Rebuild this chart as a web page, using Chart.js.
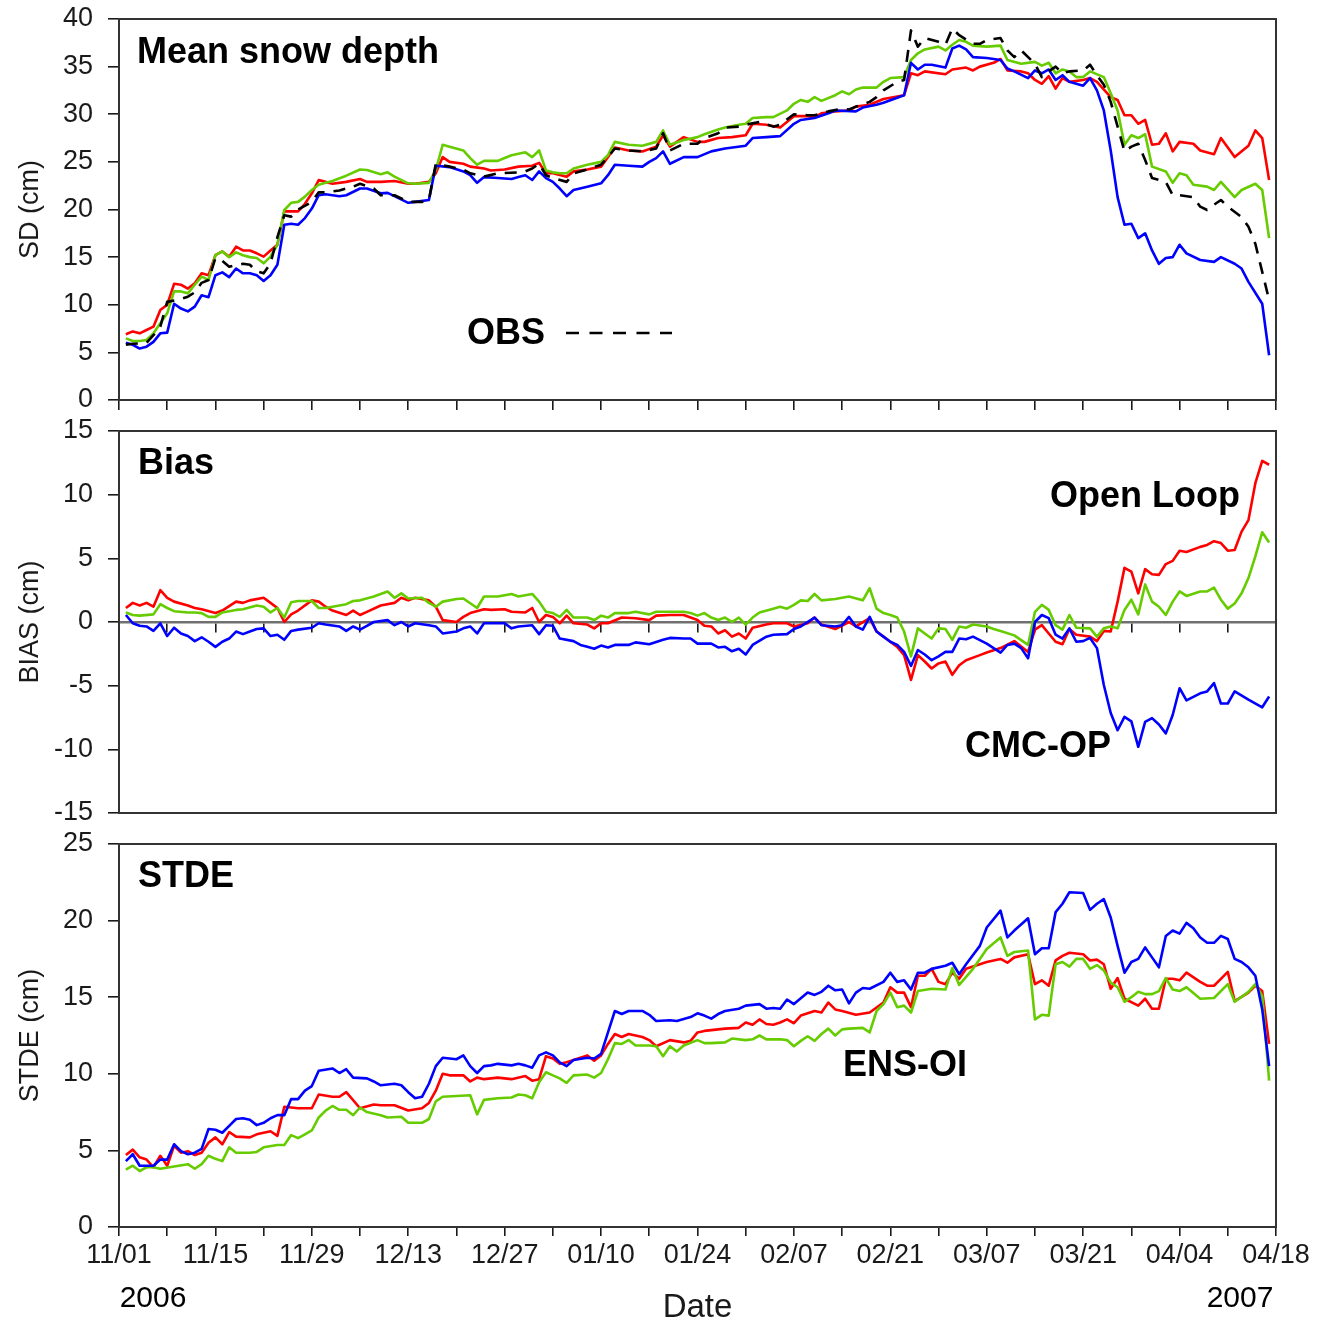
<!DOCTYPE html>
<html>
<head>
<meta charset="utf-8">
<title>Mean snow depth, bias and STDE, 2006-2007</title>
<script src="https://cdn.jsdelivr.net/npm/chart.js@4.4.1/dist/chart.umd.min.js"></script>
<style>
  html, body { margin: 0; padding: 0; background: #fff; }
  #page { position: relative; width: 1332px; height: 1324px; overflow: hidden; background: #fff; }
  #page canvas { position: absolute; left: 0; }
</style>
</head>
<body>
<div id="page">
  <canvas id="sdChart"   width="1332" height="416" style="top:0;width:1332px;height:416px"></canvas>
  <canvas id="biasChart" width="1332" height="414" style="top:416px;width:1332px;height:414px"></canvas>
  <canvas id="stdeChart" width="1332" height="494" style="top:830px;width:1332px;height:494px"></canvas>
</div>
<script>
// ---- data: [day since 11/01/2006, value in cm] ----
const dateTicks = ['11/01','11/15','11/29','12/13','12/27','01/10','01/24','02/07','02/21','03/07','03/21','04/04','04/18'];
const yearLabels = ['2006', '2007'];
const seriesNames = ['Open Loop', 'ENS-OI', 'CMC-OP', 'OBS'];

const sdOpenLoop = [[1,6.9],[2,7.2],[3,7.0],[4,7.35],[5,7.7],[6,9.45],[7,10.0],[8,12.2],[9,12.1],[10,11.7],[11,12.25],[12,13.3],[13,13.1],[14,15.2],[15,15.6],[16,15.05],[17,16.1],[18,15.7],[19,15.7],[20,15.4],[21,15.05],[22,15.7],[23,16.3],[24,19.8],[25,19.8],[26,19.8],[27,20.6],[28,21.7],[29,23.1],[30,22.9],[31,22.7],[33,22.9],[35,23.2],[36,22.9],[38,22.9],[40,23.0],[42,22.7],[43,22.7],[45,22.9],[46,23.8],[47,25.5],[48,25.0],[50,24.8],[51,24.5],[53,24.3],[54,24.1],[56,24.2],[58,24.5],[60,24.6],[61,24.9],[62,23.8],[63,23.8],[65,23.45],[66,24.0],[68,24.2],[70,24.5],[72,26.5],[74,26.2],[76,26.1],[78,26.6],[79,27.8],[80,26.6],[82,27.6],[84,27.1],[85,27.1],[87,27.5],[89,27.6],[91,27.8],[92,29.0],[94,28.9],[96,28.6],[98,29.8],[100,29.8],[101,29.7],[102,30.1],[104,30.3],[106,30.4],[107,30.8],[109,31.0],[111,31.6],[114,32.0],[115,34.3],[116,34.1],[117,34.5],[120,34.2],[121,34.7],[123,34.9],[124,34.6],[125,35.0],[127,35.4],[128,35.8],[129,34.6],[131,34.5],[132,34.3],[133,33.6],[134,33.2],[135,34.0],[136,32.7],[137,33.8],[138,33.4],[140,33.6],[141,33.8],[142,33.4],[144,31.8],[145,31.5],[146,29.9],[147,29.9],[148,29.0],[149,29.4],[150,26.8],[151,26.9],[152,28.0],[153,26.1],[154,27.1],[156,26.9],[157,26.2],[159,25.8],[160,27.5],[162,25.5],[164,26.7],[165,28.3],[166,27.5],[167,23.1]];
const sdEnsOi = [[1,6.47],[2,6.2],[3,6.2],[4,6.3],[5,7.0],[6,8.05],[7,9.1],[8,11.4],[9,11.4],[10,11.2],[11,12.1],[12,12.95],[13,12.6],[14,15.2],[15,15.6],[16,15.0],[17,15.5],[18,15.2],[19,15.0],[20,14.9],[21,14.35],[22,15.05],[23,16.3],[24,19.95],[25,20.7],[26,20.8],[27,21.35],[28,22.05],[29,22.6],[30,22.8],[31,23.0],[33,23.55],[35,24.2],[36,24.15],[38,23.7],[39,23.9],[40,23.45],[42,22.75],[43,22.7],[45,22.8],[46,24.15],[47,26.8],[48,26.6],[50,26.2],[51,25.4],[52,24.7],[53,25.1],[55,25.1],[56,25.4],[57,25.7],[59,26.0],[60,25.5],[61,26.2],[62,24.1],[63,23.9],[64,23.8],[65,23.8],[66,24.3],[68,24.7],[70,25.0],[71,25.7],[72,27.1],[74,26.8],[76,26.7],[78,27.1],[79,28.3],[80,26.8],[82,27.3],[84,27.6],[85,27.9],[87,28.4],[88,28.6],[90,28.9],[91,29.0],[92,29.6],[94,29.7],[95,29.7],[97,30.4],[98,31.1],[99,31.5],[100,31.3],[101,31.8],[102,31.4],[104,32.0],[105,32.4],[106,32.1],[107,32.6],[108,32.8],[110,32.8],[111,33.4],[112,33.8],[114,33.9],[115,35.7],[116,36.4],[117,36.8],[119,37.1],[120,36.7],[121,37.3],[122,37.8],[123,37.6],[124,37.2],[126,37.1],[128,37.2],[129,35.7],[131,35.3],[133,35.5],[134,35.1],[135,35.4],[136,34.3],[137,34.7],[138,34.5],[139,33.9],[140,33.9],[141,34.5],[143,33.9],[144,32.2],[145,30.4],[146,26.8],[147,27.8],[148,27.5],[149,27.9],[150,24.5],[152,24.0],[153,22.8],[154,23.8],[155,23.6],[156,22.6],[158,22.4],[159,22.05],[160,22.9],[162,21.3],[163,22.05],[165,22.7],[166,22.05],[167,17.0]];
const sdCmcOp = [[1,6.0],[2,5.8],[3,5.4],[4,5.6],[5,6.1],[6,7.0],[7,7.07],[8,10.1],[9,9.6],[10,9.3],[11,9.8],[12,11.0],[13,10.8],[14,13.1],[15,13.4],[16,12.9],[17,13.8],[18,13.3],[19,13.3],[20,13.1],[21,12.5],[22,13.1],[23,14.2],[24,18.4],[25,18.5],[26,18.4],[27,19.1],[28,20.1],[29,21.5],[30,21.6],[32,21.4],[33,21.5],[35,22.2],[36,22.2],[38,21.7],[39,21.75],[40,21.4],[42,20.7],[43,20.8],[45,21.0],[46,24.6],[48,24.45],[50,24.0],[51,23.6],[52,22.8],[53,23.4],[55,23.3],[57,23.2],[58,23.4],[59,23.6],[60,23.1],[61,24.0],[62,23.3],[63,22.9],[64,22.2],[65,21.4],[66,22.05],[68,22.4],[70,22.75],[71,23.6],[72,24.7],[74,24.6],[76,24.5],[77,25.0],[78,25.4],[79,26.1],[80,24.8],[82,25.5],[84,25.5],[86,26.1],[88,26.4],[91,26.7],[92,27.5],[94,27.6],[96,27.7],[98,29.0],[99,29.4],[101,29.6],[103,30.1],[104,30.4],[107,30.3],[108,30.7],[110,31.0],[111,31.2],[114,32.0],[115,35.4],[116,34.7],[117,35.2],[118,35.2],[120,34.9],[121,36.9],[122,37.2],[123,36.8],[124,36.0],[126,35.9],[128,35.7],[129,34.8],[130,34.5],[132,33.8],[133,34.6],[134,34.3],[135,34.7],[136,33.6],[137,34.1],[138,33.4],[140,33.0],[141,33.8],[142,32.5],[143,30.4],[144,26.2],[145,21.3],[146,18.4],[147,18.5],[148,17.0],[149,17.5],[150,15.7],[151,14.3],[152,14.9],[153,15.0],[154,16.3],[155,15.4],[157,14.7],[159,14.5],[160,15.0],[162,14.3],[163,13.8],[164,12.4],[166,10.1],[167,4.7]];
const sdObs = [[1,5.8],[2,5.9],[4,6.0],[5,6.8],[6,7.7],[7,10.3],[9,10.6],[10,10.85],[11,11.3],[12,12.3],[13,12.6],[14,14.9],[15,14.6],[16,14.0],[18,14.3],[19,14.2],[20,13.5],[21,13.3],[22,14.35],[23,17.1],[24,19.4],[25,19.25],[26,20.0],[28,20.8],[29,21.8],[30,21.8],[32,22.0],[34,22.4],[35,22.7],[37,22.2],[38,21.5],[40,21.5],[42,20.8],[44,20.8],[45,21.0],[46,24.8],[48,24.5],[50,24.2],[51,23.8],[53,23.45],[55,23.8],[58,23.9],[59,24.0],[60,24.3],[61,24.8],[62,23.6],[63,23.3],[65,22.9],[66,23.8],[68,24.2],[70,24.7],[71,25.5],[72,26.4],[74,26.2],[76,26.1],[78,26.4],[79,28.0],[80,26.2],[82,26.9],[84,26.9],[85,27.5],[87,28.0],[88,28.6],[90,28.7],[91,28.9],[93,29.2],[95,28.7],[96,28.9],[98,30.0],[100,29.9],[101,29.9],[103,30.3],[105,30.6],[106,30.5],[107,30.8],[109,31.3],[110,31.8],[111,32.5],[113,33.4],[114,33.6],[115,38.8],[116,37.1],[117,38.0],[119,37.6],[120,37.3],[121,39.0],[122,38.3],[124,37.4],[125,37.4],[126,37.8],[128,38.0],[129,36.7],[130,36.0],[131,36.7],[133,35.3],[134,33.9],[135,34.5],[136,35.0],[137,34.3],[138,34.5],[140,34.6],[141,35.2],[142,34.1],[143,33.1],[144,31.3],[146,26.1],[147,26.6],[148,26.9],[149,25.2],[150,23.3],[151,23.1],[152,22.9],[153,21.5],[154,21.5],[156,21.3],[157,20.3],[158,19.95],[159,20.5],[160,21.0],[161,20.3],[163,19.2],[164,18.2],[165,16.4],[167,10.5]];

const biasOpenLoop = [[1,1.1],[2,1.5],[3,1.3],[4,1.5],[5,1.2],[6,2.5],[7,1.9],[8,1.6],[10,1.3],[11,1.1],[12,1.0],[14,0.7],[15,0.9],[17,1.6],[18,1.5],[19,1.7],[21,1.9],[22,1.5],[23,1.1],[24,0.0],[25,0.6],[26,0.9],[28,1.7],[29,1.6],[30,1.2],[31,0.9],[33,0.55],[34,0.9],[35,0.55],[36,0.8],[38,1.3],[40,1.5],[41,1.9],[42,1.7],[43,1.9],[45,1.7],[46,1.2],[47,0.15],[49,0.0],[50,0.4],[51,0.7],[53,1.0],[54,0.95],[56,1.0],[57,0.8],[59,0.75],[60,1.1],[61,0.0],[62,0.55],[63,0.4],[64,-0.1],[65,0.5],[66,-0.1],[68,-0.2],[69,-0.5],[70,-0.1],[71,-0.1],[73,0.35],[75,0.3],[77,0.15],[78,0.5],[80,0.55],[82,0.55],[84,0.15],[85,-0.3],[86,-0.35],[87,-0.9],[88,-0.65],[89,-1.15],[90,-0.9],[91,-1.3],[92,-0.45],[94,-0.2],[95,-0.1],[97,-0.1],[98,-0.35],[100,-0.1],[101,0.35],[102,-0.2],[104,-0.55],[106,0.0],[107,-0.35],[109,0.3],[110,-0.75],[111,-1.15],[112,-1.55],[113,-1.95],[114,-2.6],[115,-4.55],[116,-2.6],[117,-3.1],[118,-3.65],[119,-3.25],[120,-3.1],[121,-4.15],[122,-3.4],[123,-3.0],[125,-2.6],[126,-2.4],[128,-2.05],[130,-1.5],[132,-2.35],[133,-0.6],[134,-0.25],[135,-0.9],[136,-1.55],[137,-1.75],[138,-0.55],[139,-1.0],[141,-1.15],[142,-1.5],[143,-0.7],[144,-0.75],[145,1.6],[146,4.25],[147,3.95],[148,2.25],[149,4.15],[150,3.75],[151,3.7],[152,4.55],[153,4.8],[154,5.6],[155,5.5],[157,5.9],[158,6.05],[159,6.35],[160,6.2],[161,5.6],[162,5.65],[163,7.1],[164,8.0],[165,10.9],[166,12.65],[167,12.35]];
const biasEnsOi = [[1,0.75],[2,0.55],[3,0.5],[5,0.6],[6,1.4],[7,1.1],[8,0.85],[10,0.75],[11,0.75],[12,0.7],[13,0.4],[14,0.4],[15,0.75],[17,0.95],[18,1.0],[20,1.3],[21,1.2],[22,0.75],[23,1.1],[24,0.35],[25,1.55],[26,1.65],[28,1.65],[29,1.1],[30,1.1],[32,1.3],[33,1.4],[34,1.65],[35,1.7],[37,2.0],[39,2.4],[40,1.9],[41,2.25],[42,1.85],[44,1.9],[45,1.5],[46,1.2],[47,1.6],[49,1.8],[50,1.85],[52,1.1],[53,2.0],[55,2.0],[57,2.2],[58,2.0],[60,2.2],[61,1.6],[62,0.8],[63,0.7],[64,0.4],[65,0.95],[66,0.35],[68,0.35],[69,0.15],[70,0.5],[71,0.35],[72,0.7],[74,0.7],[75,0.8],[77,0.6],[78,0.8],[80,0.8],[82,0.8],[83,0.7],[84,0.5],[85,0.7],[86,0.35],[87,0.15],[88,0.35],[89,0.0],[90,0.35],[91,-0.2],[92,0.35],[93,0.75],[95,1.05],[96,1.2],[97,1.05],[98,1.35],[99,1.7],[100,1.65],[101,2.2],[102,1.7],[104,1.8],[105,1.9],[106,2.0],[108,1.7],[109,2.65],[110,1.05],[111,0.7],[112,0.55],[113,0.35],[114,-0.75],[115,-2.7],[116,-0.5],[117,-0.9],[118,-1.3],[119,-0.5],[120,-0.55],[121,-1.4],[122,-0.35],[123,-0.45],[124,-0.2],[126,-0.35],[127,-0.55],[128,-0.7],[130,-1.05],[132,-1.8],[133,0.8],[134,1.35],[135,0.95],[136,-0.25],[137,-0.6],[138,0.55],[139,-0.45],[141,-0.5],[142,-1.15],[143,-0.5],[144,-0.35],[145,-0.5],[146,0.95],[147,1.75],[148,0.6],[149,2.95],[150,1.6],[151,1.2],[152,0.55],[153,1.6],[154,2.4],[155,2.05],[157,2.4],[158,2.4],[159,2.7],[160,1.75],[161,1.05],[162,1.45],[163,2.25],[164,3.45],[165,5.15],[166,7.05],[167,6.25]];
const biasCmcOp = [[1,0.55],[2,-0.1],[3,-0.3],[4,-0.35],[5,-0.7],[6,-0.1],[7,-1.1],[8,-0.45],[9,-0.9],[10,-1.1],[11,-1.5],[12,-1.2],[13,-1.55],[14,-1.95],[15,-1.55],[16,-1.3],[17,-0.75],[18,-0.95],[19,-0.75],[20,-0.55],[21,-0.5],[22,-1.1],[23,-1.0],[24,-1.4],[25,-0.7],[26,-0.6],[28,-0.45],[29,-0.1],[30,-0.2],[32,-0.35],[33,-0.7],[34,-0.35],[35,-0.6],[36,-0.3],[37,0.0],[39,0.15],[40,-0.25],[41,0.0],[42,-0.35],[43,-0.1],[45,-0.25],[46,-0.35],[47,-0.9],[49,-0.75],[50,-0.5],[51,-0.35],[52,-0.9],[53,-0.1],[56,-0.1],[57,-0.5],[58,-0.35],[60,-0.25],[61,-0.95],[62,-0.25],[63,-0.3],[64,-1.3],[66,-1.5],[67,-1.8],[68,-1.95],[69,-2.1],[70,-1.85],[71,-2.0],[72,-1.8],[74,-1.8],[75,-1.6],[77,-1.75],[79,-1.4],[80,-1.25],[82,-1.3],[83,-1.3],[84,-1.7],[86,-1.7],[87,-2.0],[88,-1.95],[89,-2.3],[90,-2.1],[91,-2.55],[92,-1.8],[94,-1.15],[95,-1.0],[97,-0.95],[98,-0.55],[99,-0.35],[101,0.35],[102,-0.25],[104,-0.35],[105,-0.25],[106,0.4],[107,-0.35],[108,-0.6],[109,0.4],[110,-0.75],[111,-1.15],[112,-1.55],[113,-1.8],[114,-2.35],[115,-3.45],[116,-2.2],[117,-2.55],[118,-3.0],[119,-2.7],[120,-2.35],[121,-2.35],[122,-1.3],[123,-1.35],[124,-1.15],[126,-1.7],[127,-2.05],[128,-2.4],[129,-1.8],[130,-1.7],[131,-2.05],[132,-2.85],[133,0.0],[134,0.55],[135,0.3],[136,-1.0],[137,-1.3],[138,-0.5],[139,-1.55],[140,-1.5],[141,-1.25],[142,-2.05],[143,-4.95],[144,-7.15],[145,-8.5],[146,-7.45],[147,-7.8],[148,-9.8],[149,-7.85],[150,-7.55],[151,-8.05],[152,-8.75],[153,-7.3],[154,-5.2],[155,-6.15],[157,-5.6],[158,-5.45],[159,-4.8],[160,-6.4],[161,-6.4],[162,-5.45],[164,-6.1],[166,-6.7],[167,-5.85]];

const stdeOpenLoop = [[1,4.7],[2,5.05],[3,4.55],[4,4.4],[5,3.9],[6,4.65],[7,4.0],[8,5.3],[9,4.85],[10,4.95],[11,4.7],[12,4.85],[13,5.5],[14,5.85],[15,5.4],[16,6.2],[17,5.9],[19,5.85],[20,6.05],[22,6.25],[23,5.95],[24,7.85],[25,7.8],[26,7.75],[28,7.75],[29,8.65],[31,8.5],[32,8.5],[33,8.8],[35,7.75],[37,8.0],[38,7.95],[40,7.95],[42,7.6],[44,7.75],[45,8.1],[46,8.9],[47,10.0],[48,9.9],[50,9.9],[51,9.5],[52,9.75],[53,9.65],[54,9.7],[55,9.75],[57,9.65],[59,9.85],[60,9.55],[61,9.65],[62,11.15],[63,11.0],[64,10.65],[65,10.75],[66,10.9],[68,11.2],[69,10.85],[70,11.2],[71,11.95],[72,12.6],[73,12.4],[74,12.6],[76,12.4],[77,12.2],[78,11.8],[80,12.2],[82,12.05],[83,12.15],[84,12.7],[85,12.8],[87,12.9],[88,12.95],[90,13.0],[91,13.35],[92,13.2],[93,13.55],[94,13.25],[95,13.2],[96,13.35],[97,13.55],[98,13.3],[99,13.8],[101,14.1],[102,14.0],[103,14.65],[104,14.2],[105,14.1],[107,13.85],[109,14.0],[111,14.65],[112,15.65],[113,15.3],[114,15.3],[115,14.35],[116,16.4],[117,16.4],[118,16.85],[119,16.0],[120,15.85],[121,16.6],[122,16.2],[123,16.85],[125,17.15],[126,17.3],[128,17.5],[129,17.25],[130,17.6],[132,17.8],[133,15.85],[134,16.1],[135,15.75],[136,17.4],[137,17.7],[138,17.9],[140,17.8],[141,17.4],[142,17.45],[143,17.15],[144,15.55],[145,16.25],[146,14.9],[148,14.45],[149,14.9],[150,14.25],[151,14.25],[152,16.2],[153,16.2],[154,16.1],[155,16.6],[157,16.0],[158,15.75],[159,15.75],[160,16.2],[161,16.65],[162,14.75],[164,15.3],[165,15.75],[166,15.4],[167,11.95]];
const stdeEnsOi = [[1,3.75],[2,4.0],[3,3.65],[4,3.9],[5,3.9],[6,3.8],[8,3.95],[10,4.1],[11,3.8],[12,4.1],[13,4.65],[14,4.45],[15,4.3],[16,5.2],[17,4.85],[19,4.85],[20,4.9],[21,5.2],[23,5.35],[24,5.35],[25,6.0],[26,5.8],[27,6.05],[28,6.3],[29,7.15],[30,7.6],[31,7.9],[32,7.65],[33,7.65],[34,7.3],[35,7.8],[36,7.5],[38,7.3],[39,7.15],[41,7.2],[42,6.8],[44,6.8],[45,7.05],[46,8.2],[47,8.5],[49,8.55],[51,8.6],[52,7.35],[53,8.3],[55,8.4],[57,8.45],[58,8.65],[59,8.6],[60,8.4],[61,9.45],[62,10.1],[63,9.9],[64,9.7],[65,9.4],[66,9.9],[68,9.95],[69,9.75],[70,10.05],[71,10.95],[72,12.0],[73,11.95],[74,12.2],[75,11.85],[77,11.85],[78,11.8],[79,11.15],[80,11.8],[81,11.45],[82,11.85],[84,12.2],[85,12.0],[86,12.0],[88,12.05],[89,12.3],[91,12.2],[92,12.25],[93,12.5],[94,12.25],[96,12.25],[97,12.2],[98,11.8],[99,12.15],[100,12.45],[101,12.15],[102,12.6],[103,12.95],[104,12.5],[105,12.9],[106,12.95],[108,13.0],[109,12.7],[110,14.1],[111,14.55],[112,15.3],[113,14.35],[114,14.45],[115,14.0],[116,15.4],[118,15.55],[120,15.5],[121,16.9],[122,15.8],[124,16.85],[125,17.5],[126,18.15],[128,18.9],[129,17.7],[130,17.95],[132,18.05],[133,13.55],[134,13.85],[135,13.8],[136,17.15],[137,17.3],[138,17.0],[139,17.5],[140,17.5],[141,16.85],[142,17.1],[143,16.75],[144,15.95],[145,15.65],[146,14.7],[147,15.0],[148,15.35],[149,15.2],[150,15.2],[151,15.4],[152,16.25],[153,15.5],[154,15.4],[155,15.65],[157,14.9],[159,14.95],[161,15.85],[162,14.7],[164,15.35],[165,15.85],[166,15.1],[167,9.55]];
const stdeCmcOp = [[1,4.3],[2,4.75],[3,4.0],[4,4.0],[5,4.0],[6,4.4],[7,4.4],[8,5.4],[9,4.95],[10,4.75],[11,4.85],[12,5.1],[13,6.4],[14,6.35],[15,6.15],[16,6.6],[17,7.05],[18,7.1],[19,7.0],[20,6.65],[21,6.8],[22,7.1],[23,7.3],[24,7.3],[25,8.35],[26,8.35],[27,8.9],[28,9.2],[29,10.2],[31,10.35],[32,10.05],[33,10.3],[34,9.75],[36,9.7],[37,9.5],[38,9.25],[40,9.35],[41,9.25],[42,8.8],[43,8.4],[44,8.5],[45,9.35],[46,10.5],[47,11.05],[49,10.95],[50,11.2],[51,10.5],[52,10.05],[53,10.5],[54,10.55],[55,10.65],[57,10.55],[58,10.65],[59,10.55],[60,10.4],[61,11.2],[62,11.4],[63,11.2],[64,10.75],[65,10.5],[66,10.9],[68,11.05],[69,11.0],[70,11.3],[71,12.7],[72,14.1],[73,13.9],[74,14.1],[76,14.1],[77,13.85],[78,13.45],[80,13.5],[81,13.45],[83,13.7],[84,13.95],[85,13.8],[86,13.6],[87,13.9],[88,14.1],[90,14.25],[91,14.45],[93,14.55],[94,14.25],[95,14.3],[96,14.25],[97,14.85],[98,14.55],[100,15.3],[101,15.15],[102,15.35],[103,15.75],[104,15.45],[105,15.5],[106,14.6],[107,15.3],[108,15.6],[109,15.55],[111,16.0],[112,16.6],[113,16.0],[114,16.1],[115,15.5],[116,16.6],[117,16.6],[118,16.85],[120,17.05],[121,17.25],[122,16.5],[123,17.15],[125,18.35],[126,19.55],[128,20.65],[129,18.9],[130,19.35],[132,20.15],[133,17.8],[134,18.2],[135,18.2],[136,20.55],[137,21.1],[138,21.85],[140,21.8],[141,20.7],[142,21.1],[143,21.4],[144,20.2],[145,18.35],[146,16.6],[147,17.3],[148,17.5],[149,18.25],[150,17.6],[151,16.95],[152,19.0],[153,19.35],[154,19.15],[155,19.85],[156,19.5],[157,18.9],[158,18.55],[159,18.55],[160,19.0],[161,18.8],[162,17.5],[163,17.3],[164,16.95],[165,16.4],[166,14.2],[167,10.5]];

// ---- styling ----
const FONT = "'Liberation Sans', Arial, Helvetica, sans-serif";
const INK = '#1a1a1a';
const FRAME = '#333333';
const RED = '#ff0000', GREEN = '#66cc00', BLUE = '#0000ff', BLACK = '#000000';
const DAY_MAX = 168;

Chart.defaults.font.family = FONT;
Chart.defaults.color = INK;

function line(label, data, color, order, dashed) {
  return {
    label, data, borderColor: color, backgroundColor: color,
    borderWidth: 2.6, pointRadius: 0, tension: 0, fill: false, order,
    borderDash: dashed ? [12, 9] : [], borderJoinStyle: 'round'
  };
}

function yScale(min, max, title) {
  return {
    type: 'linear', min, max,
    ticks: { stepSize: 5, padding: 15, font: { size: 27 }, color: INK, callback: v => String(v) },
    grid: { display: true, drawOnChartArea: false, drawTicks: true, tickLength: 11, color: INK, lineWidth: 1.6 },
    border: { display: false },
    title: { display: true, text: title, font: { size: 27 }, color: INK, padding: { top: 14, bottom: 0 } },
    // fixed axis width; the end labels may overhang the plot box
    afterFit(s) { s.width = 119; s.paddingTop = 0; s.paddingBottom = 0; }
  };
}

function xTicksGrid(len) {
  return { display: true, drawOnChartArea: false, drawTicks: true, tickLength: len, color: INK, lineWidth: 1.6 };
}

// frame around the plotting box plus panel annotations
function panelDecor(texts, extra) {
  return {
    id: 'panelDecor',
    afterDraw(chart) {
      const { ctx, chartArea: a } = chart;
      ctx.save();
      ctx.strokeStyle = FRAME;
      ctx.lineWidth = 2;
      ctx.strokeRect(a.left, a.top, a.right - a.left, a.bottom - a.top);
      ctx.fillStyle = '#000';
      ctx.textBaseline = 'alphabetic';
      texts.forEach(t => {
        ctx.font = t.font;
        ctx.textAlign = t.align || 'left';
        ctx.fillText(t.text, t.x, t.y);
      });
      if (extra) extra(ctx, chart);
      ctx.restore();
    }
  };
}

const BOLD = `bold 36px ${FONT}`;
const common = {
  responsive: false, animation: false, devicePixelRatio: 1,
  plugins: { legend: { display: false }, tooltip: { enabled: false } },
  events: []
};

// ---- panel 1: mean snow depth ----
new Chart(document.getElementById('sdChart'), {
  type: 'line',
  data: { datasets: [
    line(seriesNames[0], sdOpenLoop, RED, 3),
    line(seriesNames[1], sdEnsOi, GREEN, 2),
    line(seriesNames[2], sdCmcOp, BLUE, 1),
    line(seriesNames[3], sdObs, BLACK, 0, true)
  ]},
  options: Object.assign({}, common, {
    layout: { padding: { top: 19, right: 56, left: 0, bottom: 0 } },
    scales: {
      x: { type: 'linear', min: 0, max: DAY_MAX,
           ticks: { stepSize: 7, display: false, autoSkip: false },
           grid: xTicksGrid(10), border: { display: false },
           afterFit(s) { s.height = 16; s.paddingLeft = 0; s.paddingRight = 0; } },
      y: yScale(0, 40, 'SD (cm)')
    }
  }),
  plugins: [panelDecor(
    [{ text: 'Mean snow depth', x: 137, y: 63, font: BOLD },
     { text: seriesNames[3], x: 467, y: 344, font: BOLD }],
    (ctx) => {
      ctx.strokeStyle = BLACK;
      ctx.lineWidth = 2.6;
      ctx.setLineDash([13, 10.5]);
      ctx.beginPath();
      ctx.moveTo(566, 333);
      ctx.lineTo(672, 333);
      ctx.stroke();
    })]
});

// ---- panel 2: bias ----
new Chart(document.getElementById('biasChart'), {
  type: 'line',
  data: { datasets: [
    line(seriesNames[0], biasOpenLoop, RED, 3),
    line(seriesNames[1], biasEnsOi, GREEN, 2),
    line(seriesNames[2], biasCmcOp, BLUE, 1)
  ]},
  options: Object.assign({}, common, {
    layout: { padding: { top: 15, right: 56, left: 0, bottom: 17 } },
    scales: {
      x: { type: 'linear', min: 0, max: DAY_MAX, position: { y: 0 },
           ticks: { stepSize: 7, display: false, autoSkip: false },
           grid: xTicksGrid(9),
           border: { display: true, color: '#707070', width: 2.5 },
           afterFit(s) { s.paddingLeft = 0; s.paddingRight = 0; } },
      y: yScale(-15, 15, 'BIAS (cm)')
    }
  }),
  plugins: [panelDecor([
    { text: 'Bias', x: 138, y: 58, font: BOLD },
    { text: seriesNames[0], x: 1050, y: 91, font: BOLD },
    { text: seriesNames[2], x: 965, y: 341, font: BOLD }
  ])]
});

// ---- panel 3: standard deviation of error ----
new Chart(document.getElementById('stdeChart'), {
  type: 'line',
  data: { datasets: [
    line(seriesNames[0], stdeOpenLoop, RED, 3),
    line(seriesNames[1], stdeEnsOi, GREEN, 2),
    line(seriesNames[2], stdeCmcOp, BLUE, 1)
  ]},
  options: Object.assign({}, common, {
    layout: { padding: { top: 14, right: 56, left: 0, bottom: 0 } },
    scales: {
      x: { type: 'linear', min: 0, max: DAY_MAX,
           ticks: { stepSize: 7, autoSkip: false, maxRotation: 0, minRotation: 0, padding: 3,
                    font: { size: 27 }, color: INK,
                    callback: v => (v % 14 === 0 ? dateTicks[v / 14] : '') },
           grid: xTicksGrid(9), border: { display: false },
           title: { display: true, text: 'Date', font: { size: 33, lineHeight: 1 }, color: INK, padding: 0 },
           afterFit(s) { s.height = 97; s.paddingLeft = 0; s.paddingRight = 0; } },
      y: yScale(0, 25, 'STDE (cm)')
    }
  }),
  plugins: [panelDecor([
    { text: 'STDE', x: 138, y: 57, font: BOLD },
    { text: seriesNames[1], x: 843, y: 246, font: BOLD },
    { text: yearLabels[0], x: 153, y: 477, font: `30px ${FONT}`, align: 'center' },
    { text: yearLabels[1], x: 1240, y: 477, font: `30px ${FONT}`, align: 'center' }
  ])]
});
</script>
</body>
</html>
